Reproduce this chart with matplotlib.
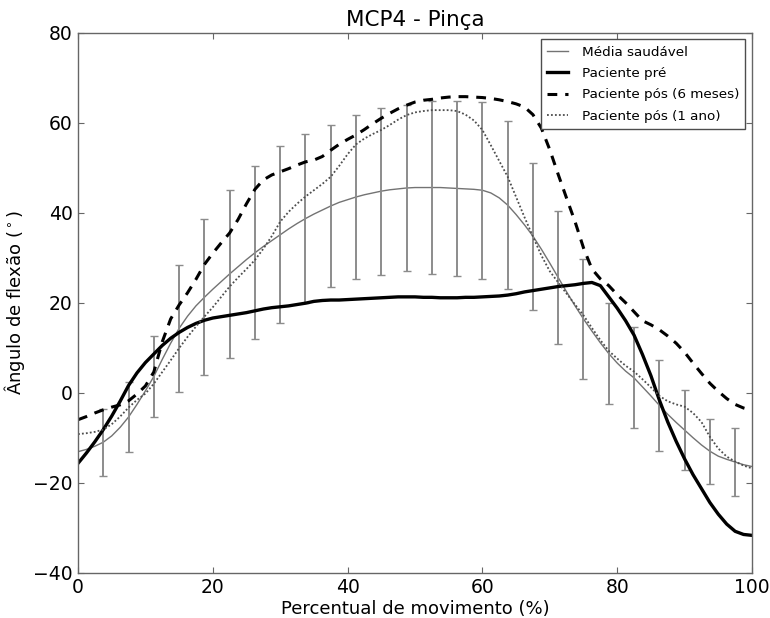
import numpy as np
import matplotlib
matplotlib.use("Agg")
import matplotlib.pyplot as plt

# Percent of movement, sampled every 1.25 %
pct = np.arange(0, 100.001, 1.25)

media_saudavel = [
    -13.1, -12.6, -11.9, -11.0, -9.6, -7.7, -5.4, -2.6, 0.4, 3.6,
    7.4, 11.0, 14.3, 17.0, 19.3, 21.2, 23.0, 24.7, 26.4, 28.0,
    29.6, 31.1, 32.5, 33.8, 35.1, 36.4, 37.6, 38.7, 39.7, 40.6,
    41.5, 42.3, 42.9, 43.5, 44.0, 44.4, 44.8, 45.1, 45.3, 45.5,
    45.6, 45.6, 45.6, 45.6, 45.5, 45.4, 45.3, 45.2, 45.0, 44.4,
    43.3, 41.7, 39.6, 37.3, 34.8, 31.9, 28.8, 25.6, 22.4, 19.3,
    16.4, 13.7, 11.1, 8.7, 6.6, 4.8, 3.3, 1.3, -0.7, -2.8,
    -4.8, -6.6, -8.3, -10.0, -11.6, -13.0, -14.1, -14.8, -15.4, -16.0,
    -16.4,
]

# Standard deviation of the healthy group, shown every 3.75 %
desvio_saudavel = [
    7.4, 7.75, 8.9, 14.1, 17.3, 18.75, 19.25, 19.65, 18.8, 18.1,
    18.2, 18.55, 18.55, 19.15, 19.5, 19.65, 18.6, 16.35, 14.8, 13.4,
    11.15, 11.2, 10.05, 8.9, 7.2, 7.5,
]

paciente_pre = [
    -15.7, -13.4, -10.9, -8.2, -5.2, -1.9, 1.6, 4.4, 6.7, 8.6,
    10.5, 12.1, 13.4, 14.5, 15.4, 16.1, 16.6, 16.9, 17.2, 17.5,
    17.8, 18.2, 18.6, 18.9, 19.1, 19.3, 19.6, 19.9, 20.3, 20.5,
    20.6, 20.6, 20.7, 20.8, 20.9, 21.0, 21.1, 21.2, 21.3, 21.3,
    21.3, 21.2, 21.2, 21.1, 21.1, 21.1, 21.2, 21.2, 21.3, 21.4,
    21.5, 21.7, 22.0, 22.4, 22.7, 23.0, 23.3, 23.6, 23.8, 24.0,
    24.3, 24.5, 23.8, 21.3, 18.8, 16.0, 12.8, 8.5, 3.8, -1.6,
    -6.5, -10.8, -14.7, -18.2, -21.3, -24.4, -27.0, -29.2, -30.8, -31.5,
    -31.7,
]

paciente_pos_6m = [
    -6.0, -5.3, -4.5, -3.8, -3.2, -2.7, -1.8, -0.3, 1.5, 4.6,
    11.3, 16.4, 19.5, 22.2, 25.2, 28.5, 31.0, 33.3, 35.5, 38.5,
    42.0, 45.2, 47.3, 48.4, 49.1, 49.8, 50.6, 51.3, 51.7, 52.5,
    53.9, 55.2, 56.3, 57.3, 58.5, 59.8, 61.0, 62.1, 63.1, 63.9,
    64.6, 65.0, 65.2, 65.5, 65.7, 65.8, 65.8, 65.7, 65.6, 65.4,
    65.1, 64.7, 64.2, 63.5, 61.8, 58.8, 54.0, 48.5, 43.2, 38.0,
    32.2, 27.5, 25.3, 23.8, 21.8, 20.0, 18.0, 16.0, 15.1, 14.0,
    12.6, 11.0, 9.0, 6.6, 4.3, 2.1, 0.3, -1.3, -2.6, -3.4,
    -3.9,
]

paciente_pos_1a = [
    -9.2, -9.0, -8.7, -8.2, -7.0, -5.3, -3.3, -1.6, -0.2, 2.0,
    4.6, 7.2, 9.9, 12.4, 14.7, 16.9, 19.0, 21.3, 23.6, 25.6,
    27.5, 29.5, 32.0, 34.8, 38.0, 40.2, 42.0, 43.6, 45.0, 46.4,
    48.0, 50.4, 53.0, 55.2, 56.5, 57.5, 58.4, 59.5, 60.7, 61.7,
    62.3, 62.6, 62.8, 62.8, 62.8, 62.6, 61.8, 60.5, 58.4, 55.0,
    51.5, 48.0, 43.5, 39.0, 34.7, 30.5, 27.0, 24.5, 22.0, 19.6,
    17.2, 14.4, 11.7, 9.3, 7.6, 6.0, 4.7, 3.0, 1.2, -0.7,
    -1.9, -2.6, -3.1, -4.5, -6.5, -9.8, -12.4, -14.2, -15.3, -16.2,
    -16.8,
]

x_ticks = [0, 20, 40, 60, 80, 100]
y_ticks = [-40, -20, 0, 20, 40, 60, 80]

media_saudavel = np.array(media_saudavel)

fig = plt.figure(figsize=(7.7, 6.18), dpi=100)
ax = fig.add_axes([0.1013, 0.0733, 0.8753, 0.8737])

ax.plot(pct, media_saudavel, color="0.45", lw=1.0, label="Média saudável")
ax.errorbar(pct[3::3], media_saudavel[3::3], yerr=desvio_saudavel,
            fmt="none", ecolor="0.55", elinewidth=1.4, capsize=3,
            capthick=1.0)
ax.plot(pct, paciente_pre, color="black", lw=2.4, label="Paciente pré")
ax.plot(pct, paciente_pos_6m, color="black", lw=2.2, ls=(0, (3.2, 2.6)),
        label="Paciente pós (6 meses)")
ax.plot(pct, paciente_pos_1a, color="0.3", lw=1.3, ls=(0, (1, 1.2)),
        label="Paciente pós (1 ano)")

ax.set_xlim(0, 100)
ax.set_ylim(-40, 80)
ax.set_xticks(x_ticks)
ax.set_yticks(y_ticks)
ax.tick_params(direction="in", top=True, right=True, length=4,
               width=0.8, color="0.4", labelsize=13.5, pad=4)
for sp in ax.spines.values():
    sp.set_color("0.4")
    sp.set_linewidth(1.0)

ax.set_title("MCP4 - Pinça", fontsize=15.5, pad=5)
ax.set_xlabel("Percentual de movimento (%)", fontsize=13, labelpad=2)
ax.set_ylabel(r"Ângulo de flexão ($^\circ$)", fontsize=13, labelpad=4)

leg = ax.legend(loc="upper right", fontsize=9.7, fancybox=False,
                framealpha=1, edgecolor="0.3", handlelength=1.6,
                handletextpad=1.0, labelspacing=0.62, borderpad=0.45)
leg.get_frame().set_linewidth(1.0)

fig.savefig("out.png", dpi=100)
